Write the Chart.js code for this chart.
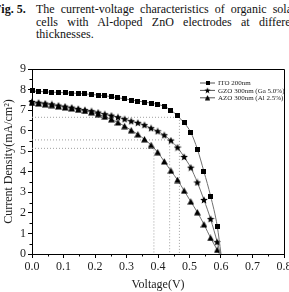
<!DOCTYPE html>
<html><head><meta charset="utf-8">
<script src="https://cdn.jsdelivr.net/npm/chart.js@4"></script>
<style>
html,body{margin:0;padding:0;background:#fff;width:289px;height:292px;overflow:hidden;position:relative}
#cap{position:absolute;left:0;top:0;width:289px;height:45px;overflow:hidden;font-family:'Liberation Serif',serif;font-size:12px;color:#111;line-height:13px}
.ln{position:absolute;text-align:justify;text-align-last:justify}
#wrap{position:absolute;left:0;top:45px;width:289px;height:247px}
</style></head><body>
<div id="cap">
<div class="ln" style="left:-6px;top:3px;white-space:nowrap"><b>Fig. 5.</b></div>
<div class="ln" style="left:36px;top:3px;width:260px">The current-voltage characteristics of organic solar</div>
<div class="ln" style="left:36px;top:16px;width:264px">cells with Al-doped ZnO electrodes at different</div>
<div class="ln" style="left:36px;top:28px;text-align:left;text-align-last:left">thicknesses.</div>
</div>
<div id="wrap"><canvas id="c" width="289" height="247"></canvas></div>
<script>
// ---- data ----
const voltage = [0.000,0.021,0.042,0.063,0.084,0.105,0.126,0.147,0.168,0.189,0.210,0.231,0.252,0.273,0.294,0.315,0.336,0.357,0.378,0.399,0.420,0.441,0.462,0.483,0.504,0.525,0.546,0.567,0.588];
const itoJ = [7.93,7.91,7.89,7.87,7.86,7.84,7.83,7.81,7.79,7.76,7.73,7.70,7.65,7.60,7.55,7.49,7.44,7.39,7.34,7.28,7.18,7.00,6.72,6.38,5.92,5.10,4.00,2.82,1.36];
const gzoJ = [7.40,7.36,7.32,7.28,7.22,7.17,7.12,7.06,7.00,6.95,6.88,6.80,6.73,6.65,6.56,6.46,6.38,6.27,6.12,5.97,5.78,5.52,5.18,4.72,4.20,3.48,2.63,1.70,0.58];
const azoJ = [7.35,7.32,7.28,7.24,7.18,7.13,7.08,7.02,6.96,6.89,6.80,6.68,6.55,6.40,6.22,6.02,5.82,5.58,5.30,4.95,4.50,4.05,3.60,3.08,2.55,2.03,1.44,0.78,0.20];
const seriesLabels = ['ITO 200nm','GZO 300nm (Ga 5.0%)','AZO 300nm (Al 2.5%)'];
const vocs = [0.600, 0.598, 0.595];
const mppV = [0.468, 0.437, 0.387];
const mppJ = [6.65, 5.55, 5.14];
const xTicks = [0.0,0.1,0.2,0.3,0.4,0.5,0.6,0.7,0.8];
const yTicks = [0,1,2,3,4,5,6,7,8,9];

// ---- markers ----
function mkCanvas(w,h,draw){const c=document.createElement('canvas');c.width=w;c.height=h;const g=c.getContext('2d');g.fillStyle='#000';draw(g);return c;}
const squareImg = mkCanvas(5,5,g=>g.fillRect(0,0,5,5));
const starImg = mkCanvas(8,8,g=>{g.beginPath();const cx=4,cy=4.3,R=4,r=1.8;for(let k=0;k<10;k++){const a=-Math.PI/2+k*Math.PI/5;const rr=k%2?r:R;g.lineTo(cx+rr*Math.cos(a),cy+rr*Math.sin(a));}g.closePath();g.fill();});
const triImg = mkCanvas(7,7,g=>{g.beginPath();g.moveTo(3.5,0.3);g.lineTo(6.9,6.6);g.lineTo(0.1,6.6);g.closePath();g.fill();});
const markers = [squareImg, starImg, triImg];
const seriesJ = [itoJ, gzoJ, azoJ];

const curveSets = seriesJ.map((J,i)=>({
  label: seriesLabels[i],
  data: voltage.map((v,k)=>({x:v,y:J[k]})).concat([{x:vocs[i],y:0}]),
  borderColor:'#707070', borderWidth:1,
  pointStyle: markers[i],
  pointRadius: ctx => ctx.dataIndex === voltage.length ? 0 : 3,
  pointHoverRadius: 0,
  cubicInterpolationMode:'monotone',
  clip:false, isCurve:true
}));
const refSets = mppV.map((v,i)=>({
  label:'', data:[{x:0,y:mppJ[i]},{x:v,y:mppJ[i]},{x:v,y:0}],
  borderColor:'#a0a0a0', borderWidth:1, borderDash:[1,2], pointRadius:0, tension:0
}));

const serif = "'Liberation Serif', 'Times New Roman', serif";

const framePlugin = {
  id:'frame',
  afterDraw(chart){
    const {ctx, chartArea:a, scales:{x,y}} = chart;
    ctx.save();
    ctx.strokeStyle='#000'; ctx.lineWidth=1;
    ctx.beginPath();
    ctx.moveTo(Math.round(a.left)+0.5, Math.round(a.top)+0.5);
    ctx.lineTo(Math.round(a.right)+0.5, Math.round(a.top)+0.5);
    ctx.lineTo(Math.round(a.right)+0.5, Math.round(a.bottom)+0.5);
    ctx.stroke();
    // minor ticks
    ctx.beginPath();
    for(let i=0;i<xTicks.length-1;i++){const px=Math.round(x.getPixelForValue((xTicks[i]+xTicks[i+1])/2))+0.5;ctx.moveTo(px,a.bottom);ctx.lineTo(px,a.bottom+2.5);}
    for(let i=0;i<yTicks.length-1;i++){const py=Math.round(y.getPixelForValue((yTicks[i]+yTicks[i+1])/2))+0.5;ctx.moveTo(a.left,py);ctx.lineTo(a.left-2.5,py);}
    ctx.stroke();
    // legend
    ctx.font = '7px '+serif; ctx.textBaseline='middle'; ctx.fillStyle='#222';
    chart.data.datasets.forEach((ds,i)=>{
      if(!ds.isCurve) return;
      const yy = a.top + 14 + i*7.4;
      const x0 = a.right - 84, x1 = a.right - 69;
      ctx.strokeStyle='#555'; ctx.beginPath(); ctx.moveTo(x0,yy); ctx.lineTo(x1,yy); ctx.stroke();
      const img = markers[i]; const s = 0.8;
      ctx.drawImage(img,(x0+x1)/2-img.width*s/2,yy-img.height*s/2,img.width*s,img.height*s);
      ctx.fillText(ds.label, a.right-66, yy+0.5);
    });
    ctx.restore();
  }
};

new Chart(document.getElementById('c'),{
  type:'line',
  data:{datasets:[...curveSets, ...refSets]},
  options:{
    responsive:false, animation:false, events:[],
    layout:{padding:{left:0,right:5,top:24,bottom:0}},
    plugins:{legend:{display:false},tooltip:{enabled:false}},
    scales:{
      x:{type:'linear',min:0,max:0.8,
        afterBuildTicks:s=>{s.ticks=xTicks.map(v=>({value:v}));},
        afterFit:s=>{s.height=38;s.paddingLeft=0;s.paddingRight=0;},
        ticks:{callback:v=>v.toFixed(1),font:{family:serif,size:12},color:'#222',padding:2,maxRotation:0,autoSkip:false},
        grid:{drawOnChartArea:false,drawTicks:true,tickLength:4,color:'#000'},
        border:{color:'#000',width:1},
        title:{display:true,text:'Voltage(V)',font:{family:serif,size:12},color:'#222',padding:{top:0,bottom:0}}
      },
      y:{type:'linear',min:0,max:9,
        afterBuildTicks:s=>{s.ticks=yTicks.map(v=>({value:v}));},
        afterFit:s=>{s.width=32;s.paddingTop=0;s.paddingBottom=0;},
        ticks:{callback:v=>String(v),font:{family:serif,size:12},color:'#222',padding:2,autoSkip:false},
        grid:{drawOnChartArea:false,drawTicks:true,tickLength:4,color:'#000'},
        border:{color:'#000',width:1},
        title:{display:true,text:'Current Density(mA/cm²)',font:{family:serif,size:12},color:'#222',padding:{top:2,bottom:0}}
      }
    }
  },
  plugins:[framePlugin]
});
</script>
</body></html>
